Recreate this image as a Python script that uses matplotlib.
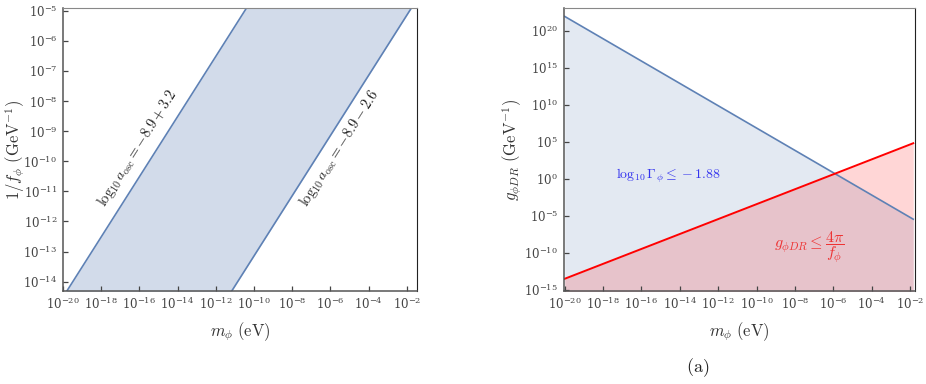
import numpy as np
import matplotlib
matplotlib.use('Agg')
import matplotlib.pyplot as plt
from matplotlib.ticker import FixedLocator, LogFormatterMathtext, NullLocator

plt.rcParams['mathtext.fontset'] = 'cm'
plt.rcParams['font.family'] = 'serif'
plt.rcParams['font.serif'] = ['DejaVu Serif']

# left panel: band between the two a_osc boundaries (1/f_phi vs m_phi)
inv_f_edges = [1e-16, 1e-4]
m_band_left = [10**-21.48, 10**-9.48]
m_band_right = [10**-12.85, 10**-0.85]
left_xticks = [10.0**e for e in range(-20, -1, 2)]
left_yticks = [10.0**e for e in range(-14, -4)]

# right panel: decay bound and perturbativity bound (g_phiDR vs m_phi)
m_right = [1e-20, 10**-1.83]
g_decay = [10**21.97, 10**-5.44]
g_pert = [10**-13.49, 10**4.83]
right_xticks = [10.0**e for e in range(-20, -1, 2)]
right_yticks = [10.0**e for e in range(-15, 21, 5)]

blue = '#5E81B5'
tick_col = '#444444'

fig = plt.figure(figsize=(9.26, 3.84), dpi=100)
ax1 = fig.add_axes([0.0679, 0.243, 0.3825, 0.736])
ax2 = fig.add_axes([0.6088, 0.243, 0.3793, 0.736])

def style_axes(ax, xt, yt):
    ax.set_xscale('log')
    ax.set_yscale('log')
    ax.xaxis.set_major_locator(FixedLocator(xt))
    ax.yaxis.set_major_locator(FixedLocator(yt))
    ax.xaxis.set_major_formatter(LogFormatterMathtext())
    ax.yaxis.set_major_formatter(LogFormatterMathtext())
    ax.xaxis.set_minor_locator(NullLocator())
    ax.yaxis.set_minor_locator(NullLocator())
    ax.tick_params(direction='in', length=3.5, width=0.9, labelsize=8.5,
                   colors=tick_col, pad=4)
    for s in ['left', 'bottom']:
        ax.spines[s].set_color('#555555')
        ax.spines[s].set_linewidth(1.1)
    ax.spines['top'].set_color('#888888')
    ax.spines['right'].set_color('#222222')

# ---- left panel
ax1.fill_betweenx(inv_f_edges, m_band_left, m_band_right, color=blue, alpha=0.28, lw=0)
ax1.plot(m_band_left, inv_f_edges, color=blue, lw=1.2)
ax1.plot(m_band_right, inv_f_edges, color=blue, lw=1.2)
style_axes(ax1, left_xticks, left_yticks)
ax1.set_xlim(10**-20.0, 10**-1.46)
ax1.set_ylim(10**-14.3, 10**-4.91)
ax1.set_xlabel(r'$m_\phi\ (\mathrm{eV})$', fontsize=12, color='#333333')
ax1.set_ylabel(r'$1/f_\phi\ (\mathrm{GeV}^{-1})$', fontsize=12, color='#333333')
ax1.xaxis.set_label_coords(0.5, -0.105)
ax1.yaxis.set_label_coords(-0.102, 0.5)

# rotation angle of the boundary lines on screen
fig.canvas.draw()
p = ax1.transData.transform(list(zip(m_band_left, inv_f_edges)))
ang = np.degrees(np.arctan2(p[1][1] - p[0][1], p[1][0] - p[0][0]))
ax1.text(10**-16.07, 10**-9.56, r'$\log_{10}a_{\rm osc}=-8.9+3.2$', fontsize=10.3,
         rotation=ang, ha='center', va='center', rotation_mode='anchor', color='#222222')
ax1.text(10**-5.49, 10**-9.56, r'$\log_{10}a_{\rm osc}=-8.9-2.6$', fontsize=10.3,
         rotation=ang, ha='center', va='center', rotation_mode='anchor', color='#222222')

# ---- right panel
ax2.fill_between(m_right, g_decay, 1e-16, color=blue, alpha=0.17, lw=0)
ax2.fill_between(m_right, g_pert, 1e-16, color='red', alpha=0.16, lw=0)
ax2.plot(m_right, g_decay, color=blue, lw=1.2)
ax2.plot(m_right, g_pert, color='red', lw=1.4)
style_axes(ax2, right_xticks, right_yticks)
ax2.set_xlim(10**-20.05, 10**-1.74)
ax2.set_ylim(10**-15.1, 10**23.1)
ax2.set_xlabel(r'$m_\phi\ (\mathrm{eV})$', fontsize=12, color='#333333')
ax2.set_ylabel(r'$g_{\phi DR}\ (\mathrm{GeV}^{-1})$', fontsize=12, color='#333333')
ax2.xaxis.set_label_coords(0.5, -0.105)
ax2.yaxis.set_label_coords(-0.112, 0.5)
ax2.text(10**-14.6, 10**0.4, r'$\log_{10}\Gamma_\phi \leq -1.88$', fontsize=10,
         color='#3333EE', ha='center', va='center')
ax2.text(10**-7.25, 10**-9.23, r'$g_{\phi DR} \leq \dfrac{4\pi}{f_\phi}$', fontsize=11.5,
         color='#EE3333', ha='center', va='center')

fig.text(698 / 926, 1 - 368 / 384, r'$\mathrm{(a)}$', fontsize=13, color='#222222',
         ha='center', va='center')

fig.savefig('out.png', dpi=100)
